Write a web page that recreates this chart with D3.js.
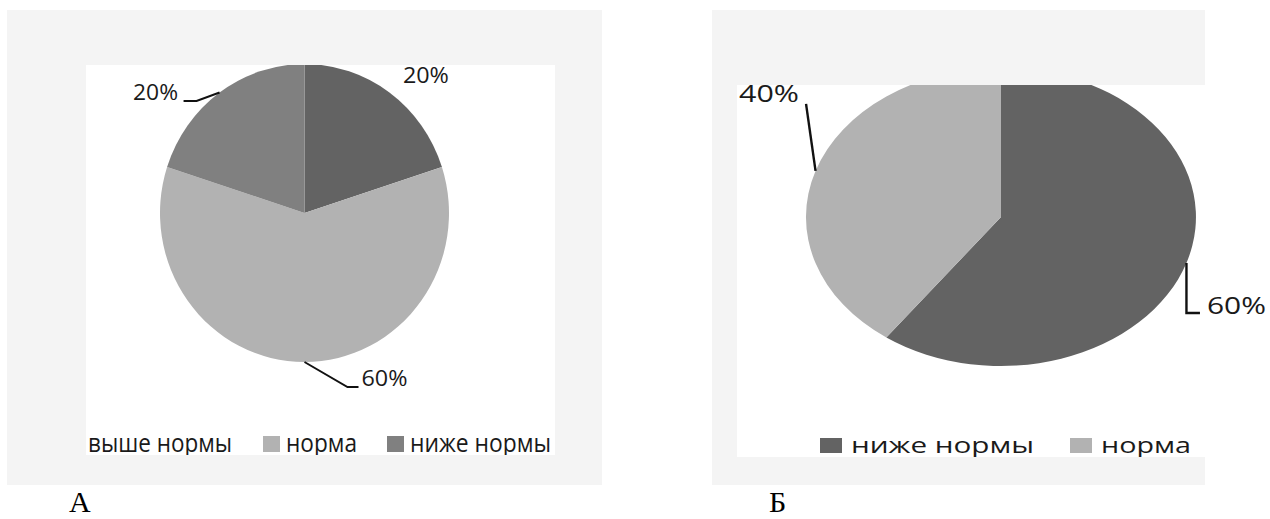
<!DOCTYPE html>
<html lang="ru">
<head>
<meta charset="utf-8">
<script src="https://cdn.jsdelivr.net/npm/d3@7"></script>
<style>
  html, body { margin: 0; padding: 0; background: #ffffff; }
  svg { display: block; }
  text { font-family: "Open Sans", "DejaVu Sans", sans-serif; fill: #1a1a1a; }
</style>
</head>
<body>
<svg id="chart" width="1270" height="519"></svg>
<script>
// Pie A: distribution across three groups
const categoriesA = ["выше нормы", "норма", "ниже нормы"];
const valuesA = [20, 60, 20];
const coloursA = ["#636363", "#b2b2b2", "#808080"];

// Pie B: two groups
const categoriesB = ["ниже нормы", "норма"];
const valuesB = [60, 40];
const coloursB = ["#636363", "#b2b2b2"];

const panelLetters = ["А", "Б"];

const svg = d3.select("#chart");

// Layout of each panel: outer frame, plot area, pie ellipse, label and legend placement
const panels = [
  {
    letter: panelLetters[0],
    categories: categoriesA, values: valuesA, colours: coloursA,
    frame: { x: 7, y: 10, w: 595, h: 475 },
    plot: { x: 86, y: 65, w: 469, h: 390 },
    cx: 304.5, cy: 213, rx: 144.5, ry: 149,
    labelSize: 22, leaderWidth: 2,
    labels: [
      { text: [13.5, -9.5], anchor: "start", width: 46, leader: null },
      { text: [57, 24], anchor: "start", width: 46, leader: [[43, 25], [54, 25]] },
      { text: [-41.5, 7.5], anchor: "end", width: 45, leader: [[-23, 8.5], [-36, 8.5]] }
    ],
    legend: {
      size: 25, baseline: 452, swTop: 436, swH: 16, swW: 17, gap: 6,
      textX: [88, 286, 410], widths: [144, 71, 141]
    },
    letterX: 69
  },
  {
    letter: panelLetters[1],
    categories: categoriesB, values: valuesB, colours: coloursB,
    frame: { x: 712, y: 10, w: 493, h: 475 },
    plot: { x: 737, y: 85, w: 468, h: 372 },
    cx: 1001, cy: 217, rx: 195, ry: 149,
    labelSize: 23, leaderWidth: 2.4,
    labels: [
      { text: [20.5, 51], anchor: "start", width: 59, leader: [[0, 50], [13.5, 50]] },
      { text: [-16.5, -69], anchor: "end", width: 60, leader: [[-9.5, -67]] }
    ],
    legend: {
      size: 22, baseline: 453, swTop: 438, swH: 15, swW: 22, gap: 9,
      textX: [851, 1101], widths: [183, 90]
    },
    letterX: 769
  }
];

const pie = d3.pie().sort(null).value(d => d);
const unitArc = d3.arc().innerRadius(0).outerRadius(1);

panels.forEach((p, pi) => {
  const g = svg.append("g");

  // grey frame and white plot area
  g.append("rect")
    .attr("x", p.frame.x).attr("y", p.frame.y)
    .attr("width", p.frame.w).attr("height", p.frame.h)
    .attr("fill", "#f4f4f4");
  g.append("rect")
    .attr("x", p.plot.x).attr("y", p.plot.y)
    .attr("width", p.plot.w).attr("height", p.plot.h)
    .attr("fill", "#ffffff");

  const clipId = "plot-clip-" + pi;
  svg.append("clipPath").attr("id", clipId)
    .append("rect")
    .attr("x", p.plot.x).attr("y", p.plot.y)
    .attr("width", p.plot.w).attr("height", p.plot.h);

  const inner = g.append("g").attr("clip-path", `url(#${clipId})`);

  // slices: a unit pie stretched into the ellipse
  const arcs = pie(p.values);
  inner.append("g")
    .attr("transform", `translate(${p.cx},${p.cy}) scale(${p.rx},${p.ry})`)
    .selectAll("path")
    .data(arcs)
    .join("path")
    .attr("d", unitArc)
    .attr("fill", (d, i) => p.colours[i]);

  // data labels with leader lines, anchored on the ellipse at each slice's mid-angle
  arcs.forEach((a, i) => {
    const mid = (a.startAngle + a.endAngle) / 2;
    const ax = p.cx + p.rx * Math.sin(mid);
    const ay = p.cy - p.ry * Math.cos(mid);
    const spec = p.labels[i];
    if (spec.leader) {
      const pts = [[ax, ay]].concat(spec.leader.map(o => [ax + o[0], ay + o[1]]));
      g.append("path")
        .attr("d", d3.line()(pts))
        .attr("fill", "none")
        .attr("stroke", "#111111")
        .attr("stroke-width", p.leaderWidth);
    }
    g.append("text")
      .attr("x", ax + spec.text[0])
      .attr("y", ay + spec.text[1])
      .attr("text-anchor", spec.anchor)
      .attr("font-size", p.labelSize)
      .attr("textLength", spec.width)
      .attr("lengthAdjust", "spacingAndGlyphs")
      .text(a.data + "%");
  });

  // legend along the bottom of the plot area
  const lg = inner.append("g");
  p.categories.forEach((c, i) => {
    const tx = p.legend.textX[i];
    lg.append("rect")
      .attr("x", tx - p.legend.gap - p.legend.swW)
      .attr("y", p.legend.swTop)
      .attr("width", p.legend.swW)
      .attr("height", p.legend.swH)
      .attr("fill", p.colours[i]);
    lg.append("text")
      .attr("x", tx)
      .attr("y", p.legend.baseline)
      .attr("font-size", p.legend.size)
      .attr("textLength", p.legend.widths[i])
      .attr("lengthAdjust", "spacingAndGlyphs")
      .text(c);
  });

  // panel letter under the frame
  svg.append("text")
    .attr("x", p.letterX)
    .attr("y", 512)
    .attr("font-size", 30)
    .style("font-family", "'Liberation Serif', 'DejaVu Serif', serif")
    .style("fill", "#000000")
    .text(p.letter);
});
</script>
</body>
</html>
